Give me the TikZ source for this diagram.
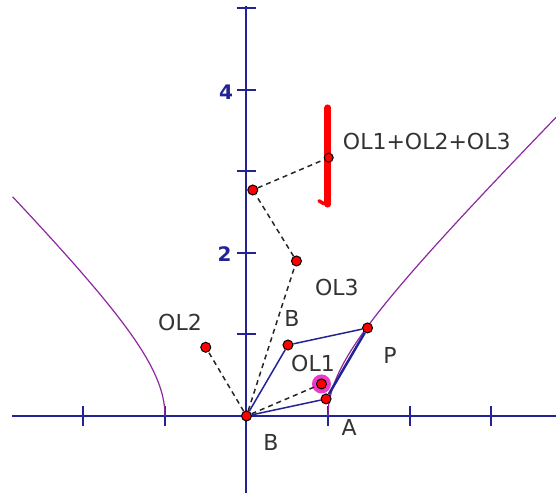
\documentclass[tikz,border=0pt]{standalone}
\usepackage{fontspec}
\setmainfont{DejaVu Sans}
\definecolor{axisblue}{RGB}{35,35,150}
\definecolor{curvepurple}{RGB}{140,40,160}
\definecolor{halo}{RGB}{235,60,200}
\begin{document}
\begin{tikzpicture}[x=81.5pt,y=81.5pt,
  axis/.style={draw=axisblue,line width=2pt},
  tickmark/.style={draw=axisblue,line width=2pt},
  vec/.style={draw=axisblue,line width=1.5pt},
  dashline/.style={draw=black!85,line width=1.5pt,dash pattern=on 5pt off 4pt},
  curve/.style={draw=curvepurple,line width=1.2pt},
  pt/.style={circle,fill=red,draw=black,line width=1pt,inner sep=0pt,minimum size=10pt},
  lbl/.style={font=\fontsize{22}{22}\selectfont,text=black!80,inner sep=0pt},
  num/.style={font=\bfseries\fontsize{20}{20}\selectfont,text=axisblue,inner sep=0pt}
]
\useasboundingbox (-3.0245,-0.9448) rectangle (3.7975,5.104);
% axes
\coordinate (xl) at (-2.877,0);
\coordinate (xr) at (3.7975,0);
\coordinate (yb) at (0,-0.9448);
\coordinate (yt) at (0,5.03);
\draw[axis] (xl) -- (xr);
\draw[axis] (yb) -- (yt);
\foreach \t in {-2,-1,1,2,3} \draw[tickmark] (\t,-0.125) -- (\t,0.125);
\foreach \t in {1,2,3,4,5} \draw[tickmark] (-0.1166,\t) -- (0.1166,\t);
\node[num] (n2) at (-0.27,1.988) {2};
\node[num] (n4) at (-0.25,3.975) {4};
% hyperbola
\draw[curve] plot[variable=\t,domain=0:3.67,samples=60,smooth] ({sqrt(1+\t*\t)},\t);
\draw[curve] plot[variable=\t,domain=0:2.69,samples=60,smooth] ({-sqrt(1+\t*\t)},\t);
% red locus
\draw[red,line width=7pt,line cap=round] (1.0,3.78) -- (1.0,2.60);
\draw[red,line width=3.5pt,line cap=round] (0.89,2.64) -- (0.94,2.61) -- (1.0,2.60);
% halo
\node[circle,fill=halo,inner sep=0pt,minimum size=19pt] (h) at (0.92,0.393) {};
% points
\node[pt] (O) at (0,0) {};
\node[pt] (Ap) at (0.976,0.209) {};
\node[pt] (Bp) at (0.509,0.871) {};
\node[pt] (P) at (1.485,1.08) {};
\node[pt] (L1) at (0.92,0.393) {};
\node[pt] (L2) at (-0.50,0.843) {};
\node[pt] (L3) at (0.613,1.902) {};
\node[pt] (Q) at (0.077,2.773) {};
\node[pt,minimum size=9pt] (S) at (1.009,3.17) {};
% parallelogram
\draw[vec] (O) -- (Ap);
\draw[vec,line width=2.5pt] (Ap) -- (P);
\draw[vec] (P) -- (Bp);
\draw[vec] (Bp) -- (O);
% dashed
\draw[dashline] (O) -- (L1);
\draw[dashline] (O) -- (L2);
\draw[dashline] (O) -- (L3);
\draw[dashline] (L3) -- (Q);
\draw[dashline] (Q) -- (S);
% labels
\node[lbl] (tsum) at (2.212,3.366) {OL1+OL2+OL3};
\node[lbl] (t3) at (1.110,1.571) {OL3};
\node[lbl] (t2) at (-0.816,1.153) {OL2};
\node[lbl] (tB) at (0.558,1.202) {B};
\node[lbl] (t1) at (0.816,0.650) {OL1};
\node[lbl] (tP) at (1.761,0.748) {P};
\node[lbl] (tA) at (1.258,-0.135) {A};
\node[lbl] (tB2) at (0.301,-0.331) {B};
\end{tikzpicture}
\end{document}
